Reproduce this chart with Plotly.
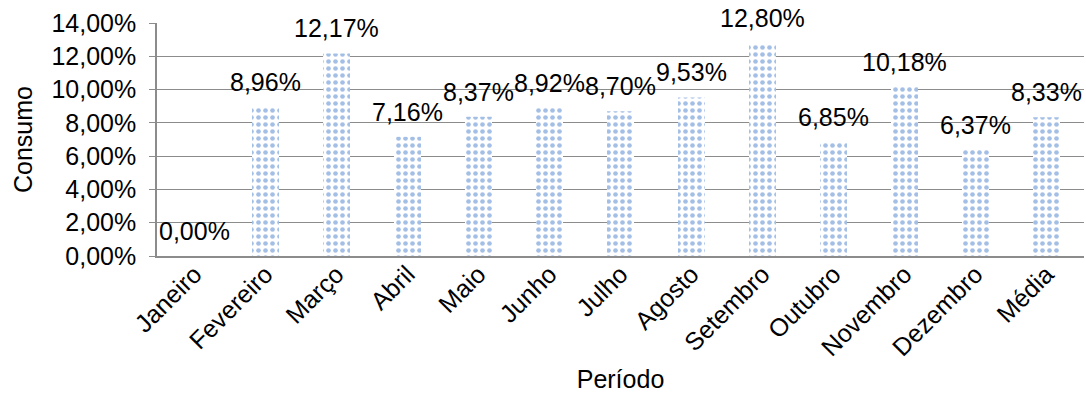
import plotly.graph_objects as go

periodos = ["Janeiro", "Fevereiro", "Março", "Abril", "Maio", "Junho", "Julho",
            "Agosto", "Setembro", "Outubro", "Novembro", "Dezembro", "Média"]
consumo = [0.00, 8.96, 12.17, 7.16, 8.37, 8.92, 8.70, 9.53, 12.80, 6.85, 10.18, 6.37, 8.33]
y_ticks = [0, 2, 4, 6, 8, 10, 12, 14]

FONT = "Liberation Sans, Arial, sans-serif"
SIZE = 25
GRID = "#8c8c8c"


def pct(v):
    return f"{v:.2f}".replace(".", ",") + "%"


fig = go.Figure(
    go.Bar(
        x=periodos,
        y=consumo,
        marker=dict(
            color="#4A7FCB",
            line=dict(width=0),
            pattern=dict(shape=".", fgcolor="#4A7FCB", bgcolor="white",
                         size=7, solidity=0.35, fillmode="overlay"),
        ),
        hoverinfo="skip",
    )
)

for p, v in zip(periodos, consumo):
    fig.add_annotation(x=p, y=v, text=pct(v), showarrow=False,
                       yanchor="bottom", yshift=9,
                       font=dict(family=FONT, size=SIZE, color="black"))

fig.update_layout(
    width=1086, height=398,
    margin=dict(l=157, r=2, t=23, b=142),
    paper_bgcolor="white", plot_bgcolor="white",
    bargap=0.62,
    showlegend=False,
    font=dict(family=FONT, size=SIZE, color="black"),
)

fig.update_xaxes(
    tickangle=-45,
    showline=True, linecolor=GRID, linewidth=1.5,
    ticks="", showgrid=False,
    ticklabelstandoff=-8,
    tickfont=dict(family=FONT, size=SIZE),
    title=dict(text="Período", font=dict(family=FONT, size=SIZE), standoff=10),
)

fig.update_yaxes(
    range=[0, 14],
    tickvals=y_ticks,
    ticktext=[pct(t) for t in y_ticks],
    showline=True, linecolor=GRID, linewidth=1.5,
    ticks="outside", ticklen=6, tickcolor=GRID,
    ticklabelstandoff=8,
    showgrid=True, gridcolor=GRID, gridwidth=1,
    zeroline=False,
    tickfont=dict(family=FONT, size=SIZE),
    title=dict(text="Consumo", font=dict(family=FONT, size=SIZE), standoff=12),
)

fig.write_html("out.html")
